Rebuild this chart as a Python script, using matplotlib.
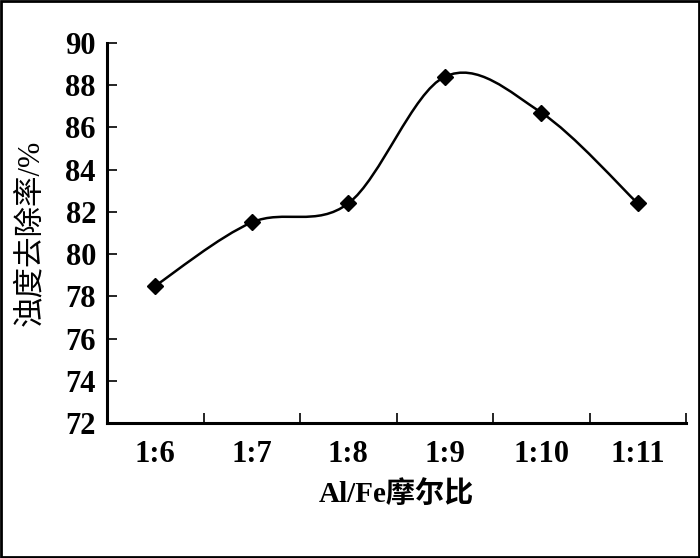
import numpy as np
import matplotlib
matplotlib.use('Agg')
import matplotlib.pyplot as plt
from matplotlib.path import Path
from matplotlib.patches import PathPatch, Rectangle

# data
ratios = ['1:6', '1:7', '1:8', '1:9', '1:10', '1:11']
removal = [78.5, 81.5, 82.4, 88.4, 86.7, 82.4]
yticks = [72, 74, 76, 78, 80, 82, 84, 86, 88, 90]

plt.rcParams['font.family'] = ['Liberation Serif', 'Noto Sans CJK SC', 'DejaVu Sans']

fig = plt.figure(figsize=(7, 5.58), dpi=100)
ax = fig.add_axes([0.153, 0.242, 0.827, 0.681])

x = np.arange(len(ratios))
y = np.array(removal)

# smooth line like Excel: cubic bezier segments with catmull-rom style handles
verts = [(x[0], y[0])]
codes = [Path.MOVETO]
n = len(x)
for i in range(n - 1):
    p0 = np.array([x[max(i - 1, 0)], y[max(i - 1, 0)]])
    p1 = np.array([x[i], y[i]])
    p2 = np.array([x[i + 1], y[i + 1]])
    p3 = np.array([x[min(i + 2, n - 1)], y[min(i + 2, n - 1)]])
    c1 = p1 + (p2 - p0) / 6
    c2 = p2 - (p3 - p1) / 6
    verts += [tuple(c1), tuple(c2), tuple(p2)]
    codes += [Path.CURVE4] * 3
ax.add_patch(PathPatch(Path(verts, codes), fill=False, lw=1.8, color='black'))
ax.plot(x, y, 'D', color='black', markersize=8.5, zorder=3)

ax.set_xlim(-0.5, len(ratios) - 0.5)
ax.set_ylim(72, 90)
ax.set_yticks(yticks)
ax.set_yticklabels([str(t) for t in yticks])
ax.set_xticks(np.arange(len(ratios)) + 0.5)
ax.set_xticklabels([])
ax.set_xticks(x, minor=True)
ax.set_xticklabels(ratios, minor=True)

for s in ['top', 'right']:
    ax.spines[s].set_visible(False)
for s in ['left', 'bottom']:
    ax.spines[s].set_linewidth(2.2)

ax.tick_params(axis='both', which='major', direction='in', length=7, width=1.2,
               labelsize=22)
ax.tick_params(axis='x', which='minor', length=0, labelsize=22, pad=12)
ax.tick_params(axis='y', pad=8)
for lab in ax.get_yticklabels() + ax.get_xticklabels(minor=True):
    lab.set_fontweight('bold')

ax.set_xlabel('Al/Fe摩尔比', fontsize=21, fontweight='bold', labelpad=8)
ax.set_ylabel('浊度去除率/%', fontsize=22, labelpad=15)

fig.patches.append(Rectangle((0.002, 0.002), 0.996, 0.996, transform=fig.transFigure,
                             fill=False, edgecolor='black', lw=2))

fig.savefig('out.png', dpi=100)
